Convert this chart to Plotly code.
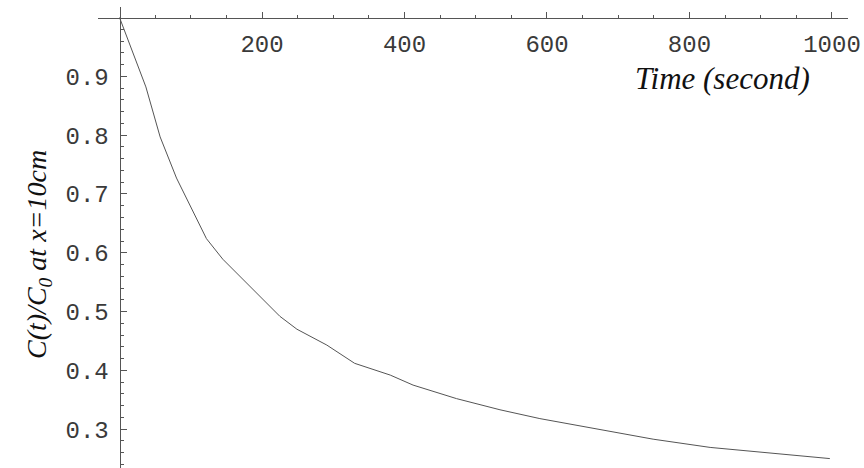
import plotly.graph_objects as go

# Data
time_s = [0, 37, 57, 80, 122, 145, 225, 249, 291, 330, 380, 412, 473, 534, 590, 618, 665, 749, 829, 997]
ratio = [1.0, 0.882, 0.797, 0.727, 0.624, 0.589, 0.492, 0.470, 0.443, 0.412, 0.392, 0.375,
         0.352, 0.333, 0.318, 0.312, 0.301, 0.283, 0.269, 0.250]

x_ticks = [200, 400, 600, 800, 1000]
y_ticks = [0.3, 0.4, 0.5, 0.6, 0.7, 0.8, 0.9]
x_minor = [v for v in range(50, 1001, 50) if v % 200 != 0]
y_minor = [round(0.24 + 0.02 * i, 2) for i in range(39)]
y_minor = [v for v in y_minor if round(v * 10, 6) != round(v * 10)]

x_range = [-30.2, 1022.5]
y_range = [0.234, 1.0179]

fig = go.Figure()
fig.add_trace(go.Scatter(x=time_s, y=ratio, mode="lines",
                         line=dict(color="#555", width=1), hoverinfo="skip"))

axis_color = "#555"
tick_font = dict(family="Liberation Mono, Courier New, monospace", size=24, color="#3a3a3a")

fig.update_layout(
    width=864, height=468,
    margin=dict(l=98, r=16, t=7, b=0),
    plot_bgcolor="white", paper_bgcolor="white",
    showlegend=False,
    xaxis=dict(
        range=x_range, anchor="free",
        position=(1.0 - y_range[0]) / (y_range[1] - y_range[0]),
        side="bottom", showgrid=False, zeroline=False,
        showline=True, linecolor=axis_color, linewidth=1,
        tickmode="array", tickvals=x_ticks, ticktext=[str(v) for v in x_ticks],
        ticks="inside", ticklen=6, tickcolor=axis_color, tickwidth=1,
        minor=dict(tickmode="array", tickvals=x_minor, ticks="inside",
                   ticklen=3, tickcolor=axis_color, tickwidth=1, showgrid=False),
        tickfont=tick_font, ticklabelstandoff=5,
    ),
    yaxis=dict(
        range=y_range, anchor="free",
        position=(0 - x_range[0]) / (x_range[1] - x_range[0]),
        side="left", showgrid=False, zeroline=False,
        showline=True, linecolor=axis_color, linewidth=1,
        tickmode="array", tickvals=y_ticks, ticktext=[f"{v:.1f}" for v in y_ticks],
        ticks="inside", ticklen=6, tickcolor=axis_color, tickwidth=1,
        minor=dict(tickmode="array", tickvals=y_minor, ticks="inside",
                   ticklen=3, tickcolor=axis_color, tickwidth=1, showgrid=False),
        tickfont=tick_font, ticklabelstandoff=6,
    ),
)

fig.add_annotation(
    text="<i>Time (second)</i>", xref="paper", yref="paper",
    x=(722 - 98) / (864 - 98 - 16), y=(468 - 78) / (468 - 7),
    showarrow=False,
    font=dict(family="Liberation Serif, Times New Roman, serif", size=31, color="#111"),
    xanchor="center", yanchor="middle",
)
fig.add_annotation(
    text="<i>C(t)/C<sub>0</sub> at x=10cm</i>", xref="paper", yref="paper",
    x=(38 - 98) / (864 - 98 - 16), y=(468 - 255) / (468 - 7),
    showarrow=False,
    font=dict(family="Liberation Serif, Times New Roman, serif", size=28, color="#111"),
    textangle=-90, xanchor="center", yanchor="middle",
)

fig.write_html("out.html")
